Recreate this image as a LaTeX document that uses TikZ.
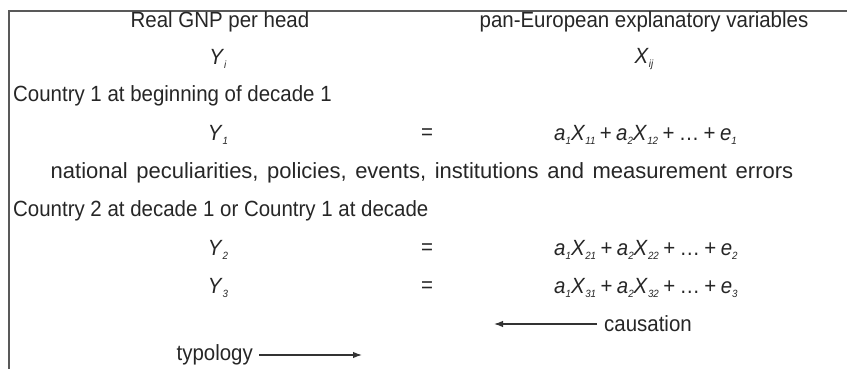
\documentclass[tikz,border=0pt]{standalone}
\usepackage{fontspec}
\setmainfont{Liberation Sans}[FakeStretch=0.93]
\newfontfamily\natfont{Liberation Sans}
\usetikzlibrary{arrows.meta}
\newcommand{\mi}[1]{\textit{#1}}
\newcommand{\sbx}[1]{\raisebox{-0.3ex}{\fontsize{10.5}{11}\selectfont\textit{#1}}}
\newcommand{\pl}{\hspace{0.2em}+\hspace{0.2em}}
\begin{document}
\begin{tikzpicture}[x=1pt,y=-1pt,
  txt/.style={inner sep=0pt,font=\fontsize{22}{24}\selectfont,text=black!85},
  arr/.style={line width=1.3pt,draw=black!80,-{Latex[length=9pt,width=6.5pt]}},
  frame/.style={line width=1.4pt,draw=black!65}]
\useasboundingbox (0,0) rectangle (847,369);
\draw[frame] (847,11) -- (9,11) -- (9,369);
\node[txt] (gnp) at (220,22) {Real GNP per head};
\node[txt] (pan) at (644,22) {pan-European explanatory variables};
\node[txt] (yi) at (218,59) {\mi{Y}\sbx{i}};
\node[txt] (xij) at (644,59) {\mi{X}\sbx{ij}};
\node[txt,anchor=west] (c1) at (13,96) {Country 1 at beginning of decade 1};
\node[txt] (y1) at (218,135) {\mi{Y}\sbx{1}};
\node[txt] (q1) at (427,134) {=};
\node[txt,anchor=west] (r1) at (554,135) {\mi{a}\sbx{1}\mi{X}\sbx{11}\pl\mi{a}\sbx{2}\mi{X}\sbx{12}\pl\dots\pl\mi{e}\sbx{1}};
\node[txt] (nat) at (422,173) {\natfont\spaceskip=8.6pt plus 1pt\relax national peculiarities, policies, events, institutions and measurement errors};
\node[txt,anchor=west] (c2) at (13,211) {Country 2 at decade 1 or Country 1 at decade};
\node[txt] (y2) at (218,250) {\mi{Y}\sbx{2}};
\node[txt] (q2) at (427,249) {=};
\node[txt,anchor=west] (r2) at (554,250) {\mi{a}\sbx{1}\mi{X}\sbx{21}\pl\mi{a}\sbx{2}\mi{X}\sbx{22}\pl\dots\pl\mi{e}\sbx{2}};
\node[txt] (y3) at (218,288) {\mi{Y}\sbx{3}};
\node[txt] (q3) at (427,287) {=};
\node[txt,anchor=west] (r3) at (554,288) {\mi{a}\sbx{1}\mi{X}\sbx{31}\pl\mi{a}\sbx{2}\mi{X}\sbx{32}\pl\dots\pl\mi{e}\sbx{3}};
\node[txt,anchor=west] (caus) at (604,324) {causation};
\coordinate (cend) at (494,324);
\draw[arr] ([xshift=-7pt]caus.west) -- (cend);
\node[txt,anchor=east] (typ) at (253,355) {typology};
\coordinate (tend) at (362,356);
\draw[arr] ([xshift=6pt]typ.east) -- (typ.east -| tend);
\end{tikzpicture}
\end{document}
